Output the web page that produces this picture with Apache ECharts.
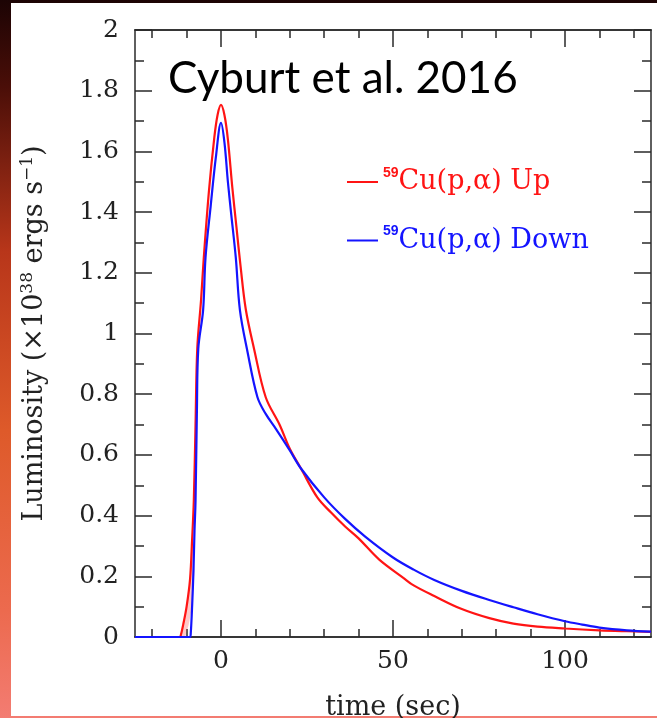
<!DOCTYPE html>
<html>
<head>
<meta charset="utf-8">
<script src="https://cdn.jsdelivr.net/npm/echarts@6/dist/echarts.min.js"></script>
<style>
  html, body { margin: 0; padding: 0; background: #fff; }
  #chart { width: 657px; height: 718px; }
</style>
</head>
<body>
<div id="chart"></div>
<script>
// Light curves of an X-ray burst for the two 59Cu(p,alpha) rate variations
const timeUp = [-25, -12, -11.7, -11, -10, -9, -8.4, -7.9, -7.4, -6.9,
  -5.8, -5, -3.5, -2, -1, 0, 1, 2, 3.3, 4.5,
  5.7, 7.2, 9.6, 13, 17, 20, 23.2, 28, 32, 36,
  40, 46, 53, 56, 62, 70, 78, 85, 92, 100,
  110, 118, 125];
const lumUp = [0, 0, 0.005, 0.04, 0.10, 0.19, 0.32, 0.45, 0.70, 0.95,
  1.11, 1.25, 1.47, 1.64, 1.72, 1.753, 1.72, 1.64, 1.48, 1.35,
  1.22, 1.08, 0.95, 0.79, 0.70, 0.62, 0.556, 0.46, 0.41, 0.365,
  0.325, 0.255, 0.195, 0.17, 0.135, 0.092, 0.062, 0.044, 0.034, 0.028,
  0.022, 0.019, 0.017];

const timeDown = [-25, -9, -8.8, -8.4, -8, -7.7, -7.4, -7, -6.6, -5.2,
  -4.5, -3, -1.5, 0, 1, 2, 3, 4.3, 5.5, 7.7,
  10.6, 13, 16, 20, 23.2, 30, 36, 42, 50, 56,
  62, 70, 78, 85, 92, 100, 105, 110, 118, 125];
const lumDown = [0, 0, 0.01, 0.1, 0.22, 0.35, 0.45, 0.75, 0.95, 1.077,
  1.25, 1.42, 1.58, 1.694, 1.63, 1.5, 1.39, 1.25, 1.077, 0.94,
  0.79, 0.735, 0.685, 0.615, 0.556, 0.46, 0.39, 0.33, 0.262, 0.222,
  0.188, 0.152, 0.122, 0.098, 0.075, 0.052, 0.041, 0.031, 0.022, 0.018];

// Uncertainty band on the rise of the "Up" curve
const bandT = [-11.9, -11, -10, -9, -8.3];
const bandLo = [0, 0, 0.04, 0.10, 0.22];
const bandHi = [0, 0.04, 0.10, 0.19, 0.34];

// Axis ticks
const xMajor = [0, 50, 100];
const xMinor = [-20, -10, 10, 20, 30, 40, 60, 70, 80, 90, 110, 120];

const names = ['59Cu(p,α) Up', '59Cu(p,α) Down'];
const RED = '#ff1414';
const BLUE = '#1414ff';
const SERIF = '"DejaVu Serif", serif';
const AX = '#2a2a2a';

const zip = (a, b) => a.map((v, i) => [v, b[i]]);

const chart = echarts.init(document.getElementById('chart'), null, { renderer: 'canvas' });

function xAxisDef(pos, ticks, len, labels) {
  return {
    type: 'value', min: -25, max: 125, position: pos, gridIndex: 0,
    axisLine: { show: true, onZero: false, lineStyle: { color: AX, width: 1.5 } },
    axisTick: { show: true, inside: true, length: len, customValues: ticks, lineStyle: { color: AX, width: 1.5 } },
    axisLabel: labels ? { show: true, customValues: ticks, fontFamily: SERIF, fontSize: 25, color: '#222', margin: 12 } : { show: false },
    splitLine: { show: false }
  };
}

function yAxisDef(pos, labels) {
  return {
    type: 'value', min: 0, max: 2, interval: 0.2, position: pos,
    axisLine: { show: true, onZero: false, lineStyle: { color: AX, width: 1.5 } },
    axisTick: { show: true, inside: true, length: 17, lineStyle: { color: AX, width: 1.5 } },
    minorTick: { show: true, splitNumber: 2, length: 9, lineStyle: { color: AX, width: 1.5 } },
    axisLabel: labels ? { show: true, fontFamily: SERIF, fontSize: 25, color: '#222', margin: 16 } : { show: false },
    splitLine: { show: false },
    minorSplitLine: { show: false }
  };
}

const xMain = xAxisDef('bottom', xMajor, 17, true);
xMain.name = 'time (sec)';
xMain.nameLocation = 'middle';
xMain.nameGap = 57;
xMain.nameTextStyle = { fontFamily: SERIF, fontSize: 27, color: '#222' };

const yMain = yAxisDef('left', true);
yMain.name = '{a|Luminosity (×10}{s|38}{a| ergs s}{s|−1}{a|)}';
yMain.nameLocation = 'middle';
yMain.nameRotate = 90;
yMain.nameGap = 84;
yMain.nameTextStyle = {
  fontFamily: SERIF, fontSize: 27, color: '#222',
  rich: {
    a: { fontFamily: SERIF, fontSize: 27, color: '#222', lineHeight: 32 },
    s: { fontFamily: SERIF, fontSize: 17, color: '#222', verticalAlign: 'top', lineHeight: 32 }
  }
};

const option = {
  animation: false,
  backgroundColor: 'transparent',
  graphic: [
    {
      type: 'rect', silent: true, z: -10,
      shape: { x: 0, y: 0, width: 657, height: 718 },
      style: {
        fill: new echarts.graphic.LinearGradient(0, 0, 0, 1, [
          { offset: 0, color: '#1c0404' },
          { offset: 0.12, color: '#4a0e08' },
          { offset: 0.35, color: '#b8361a' },
          { offset: 0.6, color: '#de5a2a' },
          { offset: 0.85, color: '#ec6a4e' },
          { offset: 1, color: '#f37c72' }
        ])
      }
    },
    {
      type: 'rect', silent: true, z: -9,
      shape: { x: 11, y: 3, width: 646, height: 713 },
      style: { fill: '#ffffff' }
    }
  ],
  title: {
    text: 'Cyburt et al. 2016',
    left: 163, top: 52,
    textStyle: { fontFamily: 'Lato, "Liberation Sans", sans-serif', fontSize: 44, fontWeight: 'normal', color: '#000' }
  },
  grid: { left: 135, right: 6, top: 30, bottom: 81, containLabel: false, outerBoundsMode: 'none' },
  xAxis: [
    xMain,
    xAxisDef('bottom', xMinor, 8, false),
    xAxisDef('top', xMajor, 17, false),
    xAxisDef('top', xMinor, 8, false)
  ],
  yAxis: [yMain, yAxisDef('right', false)],
  legend: {
    orient: 'vertical',
    left: 342, top: 161,
    itemGap: 29,
    itemWidth: 31, itemHeight: 2,
    icon: 'rect',
    data: names,
    formatter: function (n) {
      const p = n.indexOf('Up') >= 0 ? 'r' : 'b';
      return '{' + p + 's|59}{' + p + 't|' + n.slice(2) + '}';
    },
    textStyle: {
      fontFamily: SERIF, fontSize: 27,
      rich: {
        rs: { fontFamily: '"Liberation Sans", sans-serif', fontSize: 14, fontWeight: 'bold', color: RED, verticalAlign: 'top', lineHeight: 32 },
        rt: { fontFamily: SERIF, fontSize: 27, color: RED, lineHeight: 32 },
        bs: { fontFamily: '"Liberation Sans", sans-serif', fontSize: 14, fontWeight: 'bold', color: BLUE, verticalAlign: 'top', lineHeight: 32 },
        bt: { fontFamily: SERIF, fontSize: 27, color: BLUE, lineHeight: 32 }
      }
    }
  },
  series: [
    {
      // uncertainty band, drawn as one polygon through the axis scales
      name: 'band', type: 'custom', silent: true, z: 1,
      data: [0],
      renderItem: function (params, api) {
        const pts = [];
        for (let i = 0; i < bandT.length; i++) pts.push(api.coord([bandT[i], bandHi[i]]));
        for (let i = bandT.length - 1; i >= 0; i--) pts.push(api.coord([bandT[i] + 0.6, bandLo[i]]));
        return {
          type: 'polygon',
          shape: { points: pts },
          style: { fill: 'rgba(255,60,60,0.28)' }
        };
      }
    },
    {
      name: names[0], type: 'line', data: zip(timeUp, lumUp),
      symbol: 'none', smooth: 0.35,
      color: RED, lineStyle: { color: RED, width: 2.2 }, z: 3
    },
    {
      name: names[1], type: 'line', data: zip(timeDown, lumDown),
      symbol: 'none', smooth: 0.35,
      color: BLUE, lineStyle: { color: BLUE, width: 2.2 }, z: 4
    }
  ]
};

chart.setOption(option);
</script>
</body>
</html>
